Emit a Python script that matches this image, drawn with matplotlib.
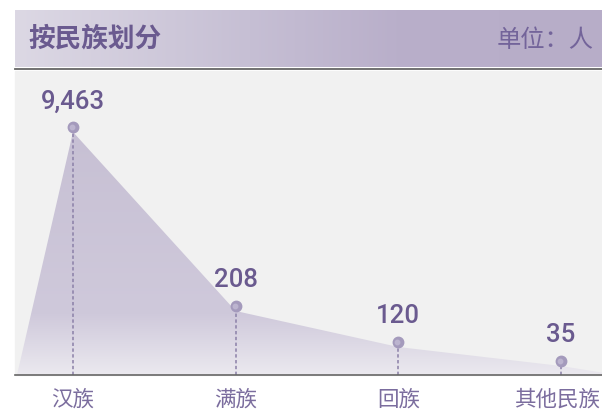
import numpy as np
import matplotlib
matplotlib.use("Agg")
import matplotlib.pyplot as plt
from matplotlib.colors import LinearSegmentedColormap
from matplotlib.patches import Rectangle, Polygon
from matplotlib.transforms import ScaledTranslation

# ---- data ----
categories = ["汉族", "满族", "回族", "其他民族"]
values = [9463, 208, 120, 35]
value_labels = ["9,463", "208", "120", "35"]
title = "按民族划分"
unit = "单位：人"

# the source compresses the value axis by hand; these knots reproduce it
SCALE_VALUES = [0, 35, 120, 208, 9463]
SCALE_HEIGHTS = [0, 9, 28, 64, 243]

W, H, DPI = 602, 411, 100
CJK = ["Noto Sans CJK SC", "DejaVu Sans"]
PURPLE = "#6a5a8f"


def px(x0, y0, x1, y1):
    """pixel box (top-left origin) -> figure fraction rect"""
    return [x0 / W, 1 - y1 / H, (x1 - x0) / W, (y1 - y0) / H]


fig = plt.figure(figsize=(W / DPI, H / DPI), dpi=DPI)
fig.patch.set_facecolor("white")

# header band with horizontal gradient
hax = fig.add_axes(px(15, 10, 602, 67.5))
hax.set_axis_off()
hcmap = LinearSegmentedColormap.from_list(
    "hdr", [(0, "#dcd8e4"), (0.4, "#c6bfd4"), (0.65, "#b9afca"), (1, "#b7adc8")])
hax.imshow(np.linspace(0, 1, 256)[None, :], cmap=hcmap, aspect="auto",
           extent=[0, 1, 0, 1])
hax.set_xlim(0, 1); hax.set_ylim(0, 1)
fig.text(28 / W, 1 - 39.5 / H, title, fontsize=19.2, fontweight="bold",
         color=PURPLE, family=CJK, va="center", ha="left")
fig.text(594 / W, 1 - 40 / H, unit, fontsize=17.5, color="#73649a",
         family=CJK, va="center", ha="right")
fig.add_artist(plt.Line2D([15 / W, 1], [1 - 69 / H] * 2, color="#666666", lw=1.3))

# plot background
fig.add_artist(Rectangle((15 / W, 1 - 375 / H), 587 / W, 304 / H,
                         transform=fig.transFigure, color="#f1f1f1", zorder=0))

# main axes: from baseline up to the tallest vertex
ax = fig.add_axes(px(15, 132, 602, 375))
ax.patch.set_alpha(0)
fwd = lambda v: np.interp(v, SCALE_VALUES, SCALE_HEIGHTS)
inv = lambda h: np.interp(h, SCALE_HEIGHTS, SCALE_VALUES)
ax.set_yscale("function", functions=(fwd, inv))
xs = np.arange(len(values))
step_px = (561 - 73) / 3
ax.set_xlim(-(73 - 15) / step_px, 3 + (602 - 561) / step_px)
ax.set_ylim(0, max(values))

# area with vertical gradient, running to the baseline at both ends
pad = (73 - 17) / step_px
poly_x = np.r_[xs[0] - pad, xs, xs[-1] + pad]
poly_y = np.r_[0, values, 0]
area = Polygon(np.c_[poly_x, poly_y], closed=True, facecolor="none",
               edgecolor="none", transform=ax.transData)
ax.add_patch(area)
acmap = LinearSegmentedColormap.from_list(
    "area", [(0, "#ebe9ef"), (0.25, "#cfc9db"), (1, "#c7c0d4")])
img = ax.imshow(np.linspace(0, 1, 256)[:, None], cmap=acmap, aspect="auto",
                origin="lower", extent=[0, 1, 0, 1], transform=ax.transAxes,
                zorder=1)
img.set_clip_path(area)

# dotted drop lines and pin-dots
ax.vlines(xs, 0, values, colors="#8b80a8", lw=1.1, linestyles=(0, (2.2, 1.6)),
          zorder=2, clip_on=False)
up = ax.transData + ScaledTranslation(0, 5 / DPI, fig.dpi_scale_trans)
ax.plot(xs, values, "o", ms=7.5, color="#a49abc", transform=up, zorder=3,
        clip_on=False)
ax.plot(xs - 0.006, values, "o", ms=3.2, color="#bcb4cf", transform=up,
        zorder=3, clip_on=False)
for x, v, lab in zip(xs, values, value_labels):
    ax.annotate(lab, (x, v), xytext=(0, 22), textcoords="offset points",
                ha="center", va="center", fontsize=18.5, color=PURPLE,
                fontweight="medium", family=["Roboto", "DejaVu Sans"],
                annotation_clip=False)

ax.set_xticks(xs, categories, family=CJK, fontsize=15.5, color="#7b6d9e")
ax.tick_params(axis="x", length=0, pad=10)
# last label sits right at the edge: nudge it in so it is not clipped
last = ax.get_xticklabels()[-1]
last.set_transform(last.get_transform()
                   + ScaledTranslation(-4 / DPI, 0, fig.dpi_scale_trans))
ax.set_yticks([])
ax.yaxis.set_minor_locator(matplotlib.ticker.NullLocator())
for s in ("top", "left", "right"):
    ax.spines[s].set_visible(False)
ax.spines["bottom"].set_color("#666666")
ax.spines["bottom"].set_linewidth(1.2)
ax.spines["bottom"].set_zorder(4)

fig.savefig("out.png", dpi=DPI, facecolor="white")
